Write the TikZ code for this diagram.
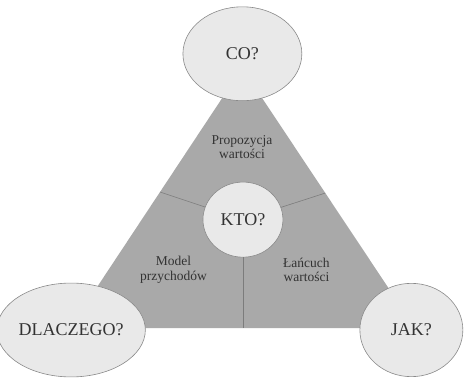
\documentclass[tikz,border=0pt]{standalone}
\usepackage{xcolor}
\usepackage{fontspec}
\setmainfont{Liberation Serif}
\usepackage{tikz}
\usetikzlibrary{calc,shapes.geometric}

\definecolor{triFill}{HTML}{A9A9A9}
\definecolor{bubbleFill}{HTML}{E9E9E9}
\definecolor{bubbleEdge}{HTML}{8A8A8A}
\definecolor{lineGray}{HTML}{7C7C7C}
\definecolor{textGray}{HTML}{333333}

\begin{document}
\begin{tikzpicture}[
    bubble/.style={ellipse, draw=bubbleEdge, line width=0.6pt, fill=bubbleFill, inner sep=0pt, text=textGray, font=\fontsize{18}{20}\selectfont},
    segtext/.style={align=center, text=textGray, font=\fontsize{13.5}{14.5}\selectfont},
    divider/.style={draw=lineGray, line width=0.6pt}]
    \useasboundingbox (0,0) rectangle (16.31,13.29);
    % triangle
    \coordinate (A) at (8.51,10.90);
    \coordinate (L) at (2.46,1.76);
    \coordinate (R) at (14.59,1.76);
    \fill[triFill] (A) -- (L) -- (R) -- cycle;
    \node[segtext] (prop) at (8.51,8.12) {Propozycja\\wartości};
    \node[segtext] (model) at (6.10,3.80) {Model\\przychodów};
    \node[segtext] (chain) at (10.77,3.80) {Łańcuch\\wartości};
    % corner bubbles
    \node[bubble, minimum width=4.18cm, minimum height=3.30cm] (co) at (8.52,11.40) {CO?};
    \node[bubble, minimum width=4.25cm, minimum height=3.30cm] (dlaczego) at (2.50,1.69) {DLACZEGO?};
    \node[bubble, minimum width=3.62cm, minimum height=3.28cm] (jak) at (14.46,1.69) {JAK?};
    \node[bubble, minimum width=2.81cm, minimum height=2.64cm] (kto) at (8.54,5.57) {KTO?};
    % dividers
    \coordinate (leftcut) at ($(L)!0.523!(A)$);
    \coordinate (rightcut) at ($(R)!0.519!(A)$);
    \draw[divider] (kto) -- (leftcut);
    \draw[divider] (kto) -- (rightcut);
    \draw[divider] (kto.south) -- (kto.south |- L);
\end{tikzpicture}
\end{document}
